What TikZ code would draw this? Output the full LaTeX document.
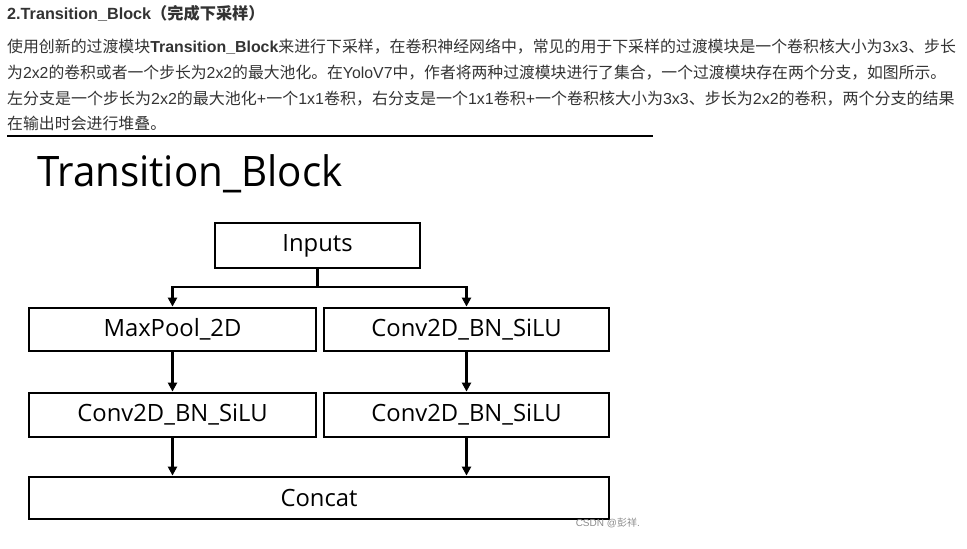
\documentclass[tikz,border=0pt]{standalone}
\usepackage{fontspec}
\setmainfont{Liberation Sans}
\newfontfamily\cjk{Noto Sans CJK SC}
\newfontfamily\diag{Open Sans}
\usetikzlibrary{arrows.meta}
\definecolor{txt}{HTML}{333333}
\begin{document}
\begin{tikzpicture}[x=1pt,y=-1pt,
  box/.style={draw=black,line width=2.8pt,fill=white,inner sep=0pt,font=\diag\fontsize{23.8}{26}\selectfont},
  arr/.style={line width=2.4pt,-{Triangle[length=9pt,width=9pt]}},
  ln/.style={line width=2.4pt},
  para/.style={anchor=base west,inner sep=0pt,text=txt,font=\fontsize{15.9}{18}\selectfont}]
\useasboundingbox (0,0) rectangle (967,549);
% heading and text
\node[para,font=\bfseries\fontsize{16.2}{18}\selectfont] (h) at (7,19) {2.Transition\_Block{\cjk\bfseries（完成下采样）}};
\node[para] (l1) at (7,52) {{\cjk 使用创新的过渡模块}\textbf{Transition\_Block}{\cjk 来进行下采样，在卷积神经网络中，常见的用于下采样的过渡模块是一个卷积核大小为}3x3{\cjk 、步长}};
\node[para,xscale=0.995] (l2) at (7,78) {{\cjk 为}2x2{\cjk 的卷积或者一个步长为}2x2{\cjk 的最大池化。在}YoloV7{\cjk 中，作者将两种过渡模块进行了集合，一个过渡模块存在两个分支，如图所示。}};
\node[para,xscale=1.006] (l3) at (7,104) {{\cjk 左分支是一个步长为}2x2{\cjk 的最大池化}+{\cjk 一个}1x1{\cjk 卷积，右分支是一个}1x1{\cjk 卷积}+{\cjk 一个卷积核大小为}3x3{\cjk 、步长为}2x2{\cjk 的卷积，两个分支的结果}};
\node[para] (l4) at (7,129) {{\cjk 在输出时会进行堆叠。}};
\coordinate (r1) at (7,136);
\coordinate (r2) at (653,136);
\draw[line width=2pt,black] (r1) -- (r2);
% diagram title
\node[anchor=base west,inner sep=0pt,xscale=0.96,font=\diag\fontsize{42}{50}\selectfont] (title) at (37,186) {Transition\_Block};
% boxes
\node[box,minimum width=205pt,minimum height=45pt] (in) at (317.5,245.5) {Inputs};
\node[box,minimum width=287pt,minimum height=43pt] (mp) at (172.5,329.5) {MaxPool\_2D};
\node[box,minimum width=285pt,minimum height=43pt] (c1) at (466.5,329.5) {Conv2D\_BN\_SiLU};
\node[box,minimum width=287pt,minimum height=44pt] (c2l) at (172.5,415) {Conv2D\_BN\_SiLU};
\node[box,minimum width=285pt,minimum height=44pt] (c2r) at (466.5,415) {Conv2D\_BN\_SiLU};
\node[box,minimum width=580pt,minimum height=42pt] (cat) at (319,498) {Concat};
% connectors
\coordinate (sp) at (317.5,287);
\draw[ln] (in.south) -- (sp);
\draw[arr] (sp) -| (mp.north);
\draw[arr] (sp) -| (c1.north);
\draw[arr] (mp.south) -- (c2l.north);
\draw[arr] (c1.south) -- (c2r.north);
\draw[arr] (c2l.south) -- (c2l.south |- cat.north);
\draw[arr] (c2r.south) -- (c2r.south |- cat.north);
% watermark
\node[anchor=east,inner sep=0pt,text=black!45,font=\fontsize{10}{12}\selectfont] (wm) at (640,523) {CSDN @{\cjk 彭祥}.};
\end{tikzpicture}
\end{document}
